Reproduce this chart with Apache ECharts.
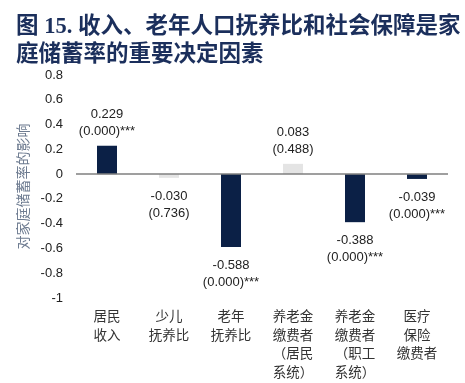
<!DOCTYPE html>
<html><head><meta charset="utf-8">
<script src="https://cdn.jsdelivr.net/npm/echarts@6/dist/echarts.min.js"></script>
<style>html,body{margin:0;padding:0;background:#fff}#c{width:465px;height:383px}</style>
</head><body><div id="c"></div>
<script>
const categories = ['居民\n收入', '少儿\n抚养比', '老年\n抚养比', '养老金\n缴费者\n（居民\n系统）', '养老金\n缴费者\n（职工\n系统）', '医疗\n保险\n缴费者'];
const coefficients = [0.229, -0.030, -0.588, 0.083, -0.388, -0.039];
const pValues = ['(0.000)***', '(0.736)', '(0.000)***', '(0.488)', '(0.000)***', '(0.000)***'];
const significant = [true, false, true, false, true, true];
const yTicks = { min: -1, max: 0.8, interval: 0.2 };

const navy = '#0b2046', light = '#e4e4e4';
const chart = echarts.init(document.getElementById('c'));
chart.setOption({
  animation: false,
  title: {
    text: '图 15. 收入、老年人口抚养比和社会保障是家\n庭储蓄率的重要决定因素',
    left: 11, top: 8,
    textStyle: { fontFamily: '"Liberation Serif","Noto Sans CJK SC"', fontWeight: 'bold', fontSize: 22.5, color: '#1b2f5c', lineHeight: 28 }
  },
  grid: { left: 76, right: 17, top: 75, bottom: 85, outerBoundsMode: 'none', containLabel: false },
  xAxis: {
    type: 'category', data: categories,
    axisLine: { show: false }, axisTick: { show: false },
    axisLabel: { margin: 9, fontFamily: '"Noto Sans CJK SC"', fontSize: 13.5, color: '#333', lineHeight: 18.5, verticalAlign: 'top', interval: 0 }
  },
  yAxis: {
    type: 'value', min: yTicks.min, max: yTicks.max, interval: yTicks.interval,
    name: '对家庭储蓄率的影响', nameLocation: 'middle', nameRotate: 90, nameGap: 45,
    nameTextStyle: { fontFamily: '"Noto Sans CJK SC"', fontSize: 14, color: '#6d7b90' },
    axisLine: { show: false }, axisTick: { show: false }, splitLine: { show: false },
    axisLabel: { margin: 13, fontFamily: '"Liberation Sans"', fontSize: 13, color: '#222',
      formatter: v => (Math.round(v * 10) / 10).toString() }
  },
  series: [{
    type: 'bar', barWidth: 20,
    data: coefficients.map((v, i) => ({
      value: v,
      itemStyle: { color: significant[i] ? navy : light },
      label: { position: v >= 0 ? 'top' : 'bottom', distance: v >= 0 ? 6 : 10 }
    })),
    label: {
      show: true, fontFamily: '"Liberation Sans"', fontSize: 13, color: '#222', lineHeight: 17,
      formatter: p => p.value.toFixed(3) + '\n' + pValues[p.dataIndex]
    },
    markLine: {
      silent: true, symbol: 'none', label: { show: false },
      lineStyle: { color: '#7f7f7f', width: 1.5, type: 'solid' },
      data: [{ yAxis: 0 }]
    }
  }]
});
</script></body></html>
